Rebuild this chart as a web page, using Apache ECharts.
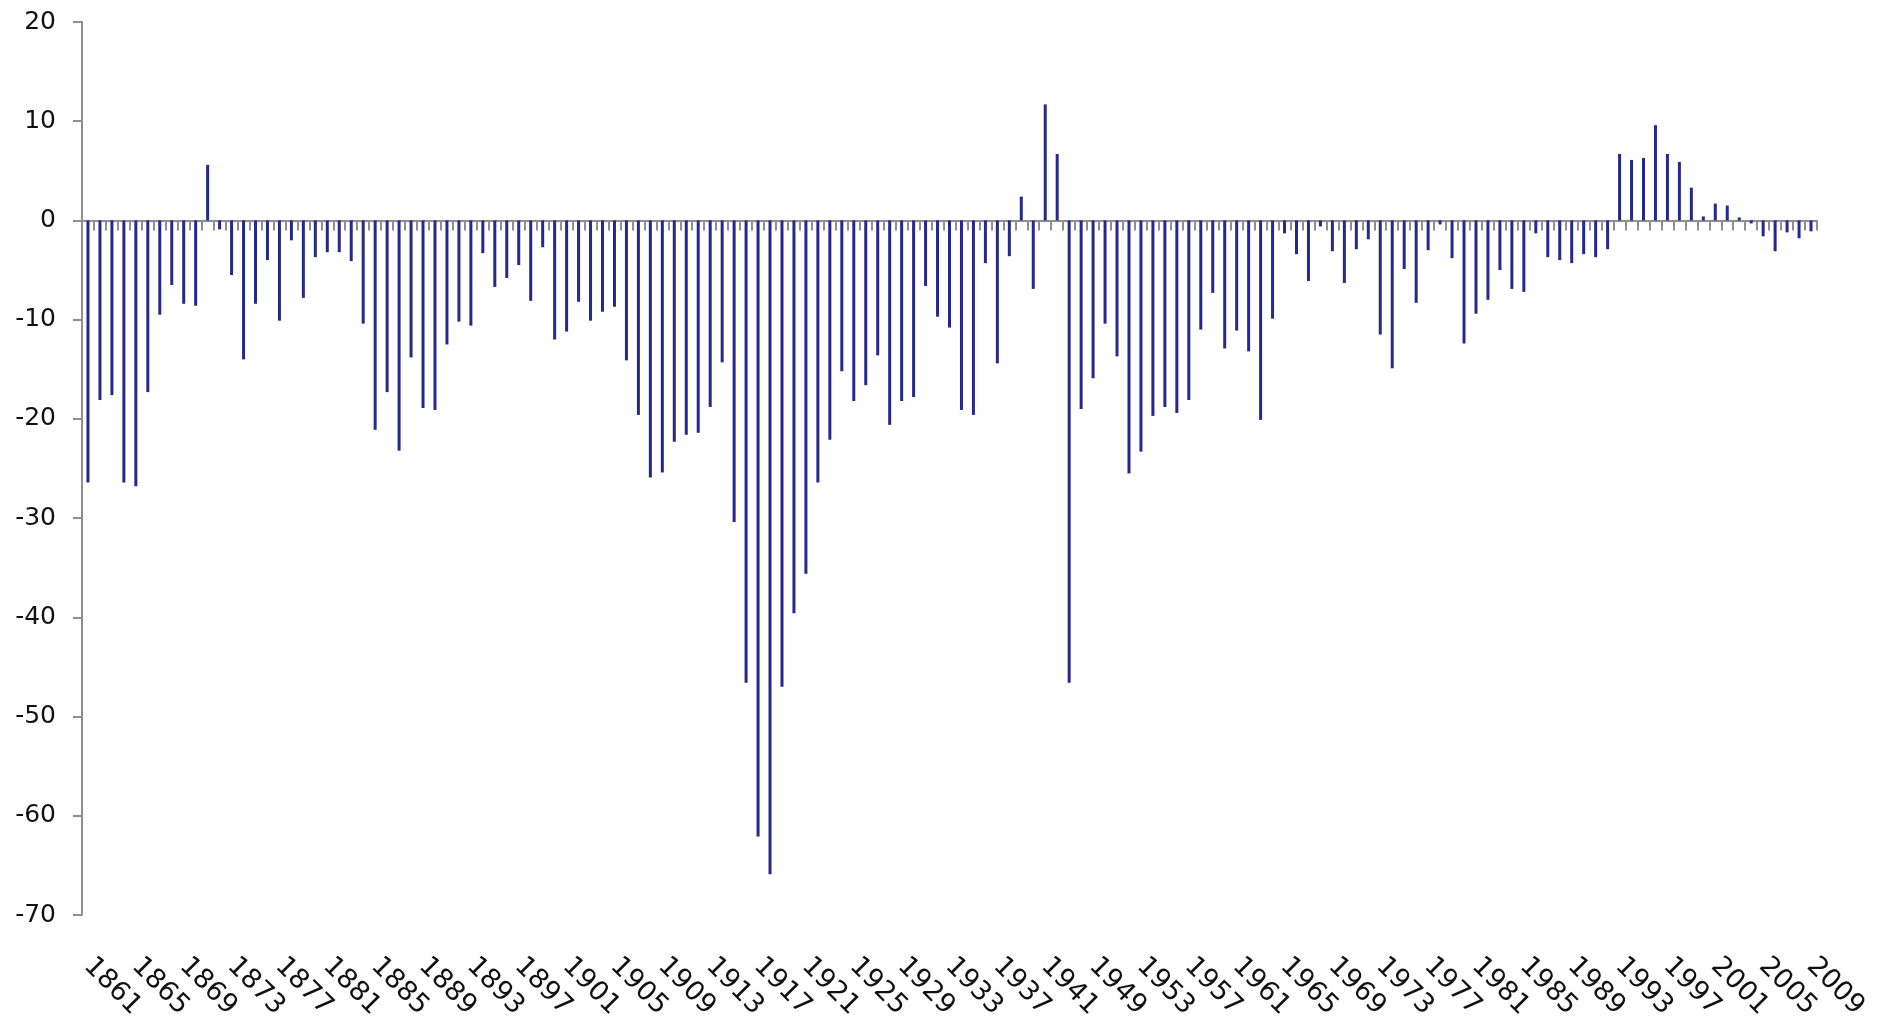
<!DOCTYPE html>
<html>
<head>
<meta charset="utf-8">
<script src="https://cdn.jsdelivr.net/npm/echarts@6/dist/echarts.min.js"></script>
<style>
html,body{margin:0;padding:0;background:#fff;}
#main{width:1878px;height:1025px;}
</style>
</head>
<body>
<div id="main"></div>
<script>
// years: 1861-1941, then three post-war years, then 1949-2009
var years = [];
for (var y = 1861; y <= 1941; y++) years.push(String(y));
var midYears = ['1946', '1947', '1948'];
years = years.concat(midYears);
for (var y2 = 1949; y2 <= 2009; y2++) years.push(String(y2));

// balance values
var values1861 = [-26.4, -18.1, -17.6, -26.4, -26.8, -17.3, -9.5, -6.5, -8.4, -8.6,
	5.6, -0.9, -5.5, -14.0, -8.4, -4.0, -10.1, -2.0, -7.8, -3.7,
	-3.2, -3.2, -4.1, -10.4, -21.1];
var values1886 = [-17.3, -23.2, -13.8, -18.9, -19.1, -12.5, -10.2, -10.6, -3.3, -6.7,
	-5.8, -4.5, -8.1, -2.7, -12.0, -11.2, -8.2, -10.1, -9.2, -8.7,
	-14.1, -19.6, -25.9, -25.4];
var values1910 = [-22.3, -21.6, -21.4, -18.8, -14.3, -30.4, -46.6, -62.1, -65.9, -47.0,
	-39.6, -35.6, -26.4, -22.1, -15.2, -18.2, -16.6, -13.6, -20.6, -18.2,
	-17.8, -6.6, -9.7, -10.8, -19.1];
var values1935 = [-19.6, -4.3, -14.4, -3.6, 2.4, -6.9, 11.7, 6.7, -46.6, -19.0,
	-15.9, -10.4, -13.7, -25.5, -23.3, -19.7, -18.8, -19.4, -18.1, -11.0,
	-7.3, -12.9, -11.1, -13.2, -20.1];
var values1966 = [-9.9, -1.3, -3.4, -6.1, -0.6, -3.1, -6.3, -2.9, -1.9, -11.5,
	-14.9, -4.9, -8.3, -3.0, -0.4, -3.8, -12.4, -9.4, -8.0, -5.0,
	-6.9, -7.2, -1.3, -3.7];
var values1990 = [-4.0, -4.3, -3.4, -3.7, -2.9, 6.7, 6.1, 6.3, 9.6, 6.7,
	5.9, 3.3, 0.4, 1.7, 1.5, 0.3, -0.3, -1.6, -3.1, -1.2,
	-1.8, -1.1];
var values = values1861.concat(values1886, values1910, values1935, values1966, values1990);

var yTicks = [-70, -60, -50, -40, -30, -20, -10, 0, 10, 20];

var myChart = echarts.init(document.getElementById('main'));
var axisGrey = '#8f8f8f';
var option = {
	animation: false,
	grid: {
		left: 82,
		right: 61,
		top: 22,
		bottom: 110
	},
	xAxis: [
		{
			// zero line with ticks between the bars
			type: 'category',
			data: years,
			position: 'bottom',
			axisLine: {onZero: true, lineStyle: {color: axisGrey, width: 2}},
			axisTick: {show: true, interval: 0, length: 10, lineStyle: {color: axisGrey, width: 2}},
			axisLabel: {show: false},
			splitLine: {show: false}
		},
		{
			// year labels at the bottom
			type: 'category',
			data: years,
			position: 'bottom',
			axisLine: {show: false, onZero: false},
			axisTick: {show: false},
			splitLine: {show: false},
			axisLabel: {
				interval: 3,
				rotate: -45,
				margin: 47,
				fontFamily: 'DejaVu Sans',
				fontSize: 27,
				color: '#111'
			}
		}
	],
	yAxis: {
		type: 'value',
		min: yTicks[0],
		max: yTicks[yTicks.length - 1],
		interval: 10,
		axisLine: {show: true, lineStyle: {color: axisGrey, width: 2}},
		axisTick: {show: true, length: 9, lineStyle: {color: axisGrey, width: 2}},
		splitLine: {show: false},
		axisLabel: {
			margin: 26,
			fontFamily: 'DejaVu Sans',
			fontSize: 25,
			color: '#111'
		}
	},
	series: [
		{
			type: 'bar',
			xAxisIndex: 0,
			data: values,
			barWidth: 3,
			itemStyle: {color: '#25288c'}
		}
	]
};
myChart.setOption(option);
</script>
</body>
</html>
